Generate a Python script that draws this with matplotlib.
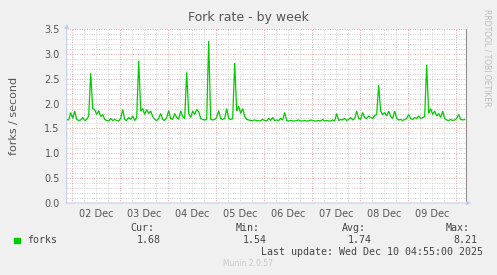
import numpy as np
import matplotlib
matplotlib.use("Agg")
import matplotlib.pyplot as plt
import matplotlib.dates as mdates
from datetime import datetime, timedelta

# ---- data (hourly samples) ----
start_time = datetime(2025, 12, 1, 21, 15)
end_time = datetime(2025, 12, 10, 4, 55)
forks = [
    1.68, 1.67, 1.82, 1.70, 1.85, 1.68, 1.66, 1.67, 1.72, 1.66, 1.68, 1.75,
    2.61, 1.90, 1.88, 1.78, 1.86, 1.74, 1.78, 1.68, 1.66, 1.65, 1.70, 1.66,
    1.68, 1.66, 1.65, 1.70, 1.88, 1.68, 1.66, 1.72, 1.68, 1.75, 1.66, 1.72,
    2.86, 1.85, 1.90, 1.78, 1.88, 1.80, 1.85, 1.74, 1.68, 1.66, 1.70, 1.80,
    1.68, 1.66, 1.72, 1.86, 1.70, 1.68, 1.80, 1.72, 1.68, 1.85, 1.74, 1.70,
    2.63, 1.80, 1.72, 1.85, 1.78, 1.88, 1.84, 1.70, 1.68, 1.67, 1.68, 3.26,
    1.68, 1.67, 1.68, 1.72, 1.86, 1.70, 1.68, 1.70, 1.90, 1.70, 1.68, 1.70,
    2.82, 1.85, 1.95, 1.80, 1.90, 1.74, 1.68, 1.67, 1.66, 1.66, 1.67, 1.66,
    1.65, 1.66, 1.68, 1.66, 1.65, 1.70, 1.66, 1.72, 1.66, 1.67, 1.66, 1.70,
    1.67, 1.82, 1.66, 1.65, 1.66, 1.65, 1.65, 1.66, 1.67, 1.65, 1.65, 1.66,
    1.65, 1.65, 1.67, 1.66, 1.65, 1.65, 1.66, 1.65, 1.68, 1.65, 1.66, 1.65,
    1.65, 1.67, 1.65, 1.80, 1.66, 1.68, 1.67, 1.70, 1.66, 1.68, 1.72, 1.67,
    1.70, 1.85, 1.70, 1.68, 1.82, 1.72, 1.70, 1.75, 1.72, 1.70, 1.76, 1.78,
    2.37, 1.85, 1.78, 1.82, 1.75, 1.85, 1.74, 1.70, 1.85, 1.70, 1.67, 1.68,
    1.66, 1.68, 1.70, 1.78, 1.70, 1.68, 1.72, 1.70, 1.75, 1.70, 1.72, 1.74,
    2.78, 1.80, 1.90, 1.78, 1.85, 1.75, 1.80, 1.72, 1.85, 1.70, 1.67, 1.66,
    1.68, 1.66, 1.67, 1.70, 1.78, 1.68, 1.67, 1.68,
]
y_ticks = [0.0, 0.5, 1.0, 1.5, 2.0, 2.5, 3.0, 3.5]
day_labels = ["02 Dec", "03 Dec", "04 Dec", "05 Dec", "06 Dec", "07 Dec", "08 Dec", "09 Dec"]
legend_name = "forks"
stat_heads = ["Cur:", "Min:", "Avg:", "Max:"]
stat_vals = ["1.68", "1.54", "1.74", "8.21"]

times = [start_time + timedelta(hours=i) for i in range(len(forks))]

W, H = 497, 275
fig = plt.figure(figsize=(W / 100, H / 100), dpi=100, facecolor="#F0F0F0")
L, R, T, B = 66.7, 466.0, 29.0, 203.0
ax = fig.add_axes([L / W, 1 - B / H, (R - L) / W, (B - T) / H])
ax.set_facecolor("white")
ax.set_xlim(start_time, end_time)
ax.set_ylim(0, 3.5)

grey = "#cfcfcf"
red = "#e8a8a8"
dot = (0, (1, 1.5))
# horizontal grid
for v in np.arange(0.1, 3.51, 0.1):
    vv = round(v, 1)
    if abs(vv * 2 - round(vv * 2)) < 1e-6:
        ax.axhline(vv, color=red, lw=0.7, ls=dot, zorder=1)
    else:
        ax.axhline(vv, color=grey, lw=0.7, ls=dot, zorder=1)
# vertical grid
t = datetime(2025, 12, 2, 0, 0)
while t < end_time:
    if t.hour == 0:
        ax.axvline(t, color=red, lw=0.7, ls=dot, zorder=1)
    else:
        ax.axvline(t, color=grey, lw=0.7, ls=dot, zorder=1)
    t += timedelta(hours=6)

ax.plot(times, forks, color="#00CC00", lw=0.9, zorder=3, solid_joinstyle="miter")

for s in ax.spines.values():
    s.set_visible(False)
ax.spines["right"].set_visible(True)
ax.spines["right"].set_color("#909090")
ax.spines["right"].set_linewidth(0.8)

# axes lines with arrows
axc = "#c8ccf0"
ax.annotate("", xy=(L / W, 1 - 21 / H), xytext=(L / W, 1 - 206 / H), xycoords="figure fraction",
            arrowprops=dict(arrowstyle="-|>", color=axc, lw=0.8, mutation_scale=6))
ax.annotate("", xy=(474 / W, 1 - B / H), xytext=(63 / W, 1 - B / H), xycoords="figure fraction",
            arrowprops=dict(arrowstyle="-|>", color=axc, lw=0.8, mutation_scale=6))

ax.set_yticks(y_ticks)
ax.set_yticklabels([f"{v:.1f}" for v in y_ticks])
label_pos = [datetime(2025, 12, 2 + i, 12, 0) for i in range(len(day_labels))]
ax.set_xticks(label_pos)
ax.set_xticklabels(day_labels)
ax.tick_params(axis="both", length=0, labelsize=7, labelcolor="#555555")
ax.tick_params(axis="x", pad=4)
ax.tick_params(axis="y", pad=5)

fig.text(248 / W, 1 - 18 / H, "Fork rate - by week", ha="center", va="center",
         fontsize=9, color="#555555")
fig.text(14 / W, 1 - 116 / H, "forks / second", rotation=90, ha="center", va="center",
         fontsize=8, color="#555555")
fig.text(487 / W, 1 - 58 / H, "RRDTOOL / TOBI OETIKER", rotation=270, ha="center", va="center",
         fontsize=5.5, color="#bbbbbb")

mono = "DejaVu Sans Mono"
fs = 7.2
tc = "#444444"
fig.patches.append(plt.Rectangle((14 / W, 1 - 243 / H), 5.5 / W, 5.5 / H, transform=fig.transFigure,
                                 color="#00CC00", figure=fig))
fig.text(27 / W, 1 - 240 / H, legend_name, family=mono, fontsize=fs, color=tc, va="center")
head_x = [154, 260, 366, 470]
val_x = [161, 267, 372, 477]
for hx, hd in zip(head_x, stat_heads):
    fig.text(hx / W, 1 - 228 / H, hd, family=mono, fontsize=fs, color=tc, ha="right", va="center")
for vx, vl in zip(val_x, stat_vals):
    fig.text(vx / W, 1 - 240 / H, vl, family=mono, fontsize=fs, color=tc, ha="right", va="center")
fig.text(483 / W, 1 - 252 / H, "Last update: Wed Dec 10 04:55:00 2025", family=mono, fontsize=fs,
         color=tc, ha="right", va="center")
fig.text(248 / W, 1 - 264 / H, "Munin 2.0.57", fontsize=5.5, color="#c8c8c8", ha="center", va="center")

fig.savefig("out.png", dpi=100, facecolor=fig.get_facecolor())
